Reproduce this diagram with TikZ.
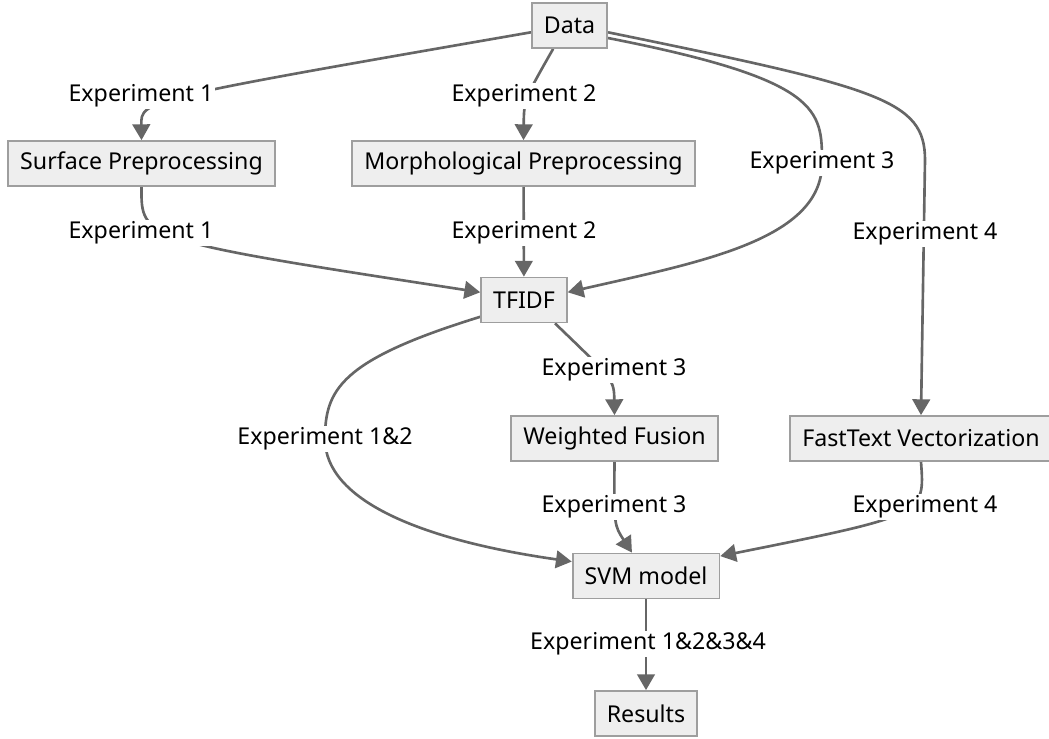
\documentclass[tikz,border=0pt]{standalone}
\usepackage{fontspec}
\setmainfont{Noto Sans}
\usetikzlibrary{arrows.meta,backgrounds}
\definecolor{boxfill}{HTML}{EEEEEE}
\definecolor{boxline}{HTML}{9E9E9E}
\definecolor{edgeline}{HTML}{666666}
\tikzset{
    stage/.style={draw=boxline, fill=boxfill, line width=1pt, minimum height=0.9cm, inner xsep=0.24cm, font=\fontsize{13.2}{15}\selectfont},
    lbl/.style={fill=white, inner sep=1pt, font=\fontsize{13.2}{15}\selectfont},
    link/.style={draw=edgeline, line width=1.5pt},
    flow/.style={link, -{Triangle[width=10pt,length=9pt]}}
}
\begin{document}
\begin{tikzpicture}[x=0.02cm, y=-0.02cm]
    \useasboundingbox (0,0) rectangle (1049,738);
    
    \node[stage] (data) at (569.5,25.5) {Data};
    \node[stage] (surf) at (141.5,163.5) {Surface Preprocessing};
    \node[stage] (morph) at (523.5,163.5) {Morphological Preprocessing};
    \node[stage] (tfidf) at (524,300) {TFIDF};
    \node[stage] (fusion) at (614.5,438.5) {Weighted Fusion};
    \node[stage] (fast) at (921,438.5) {FastText Vectorization};
    \node[stage] (svm) at (646,576) {SVM model};
    \node[stage] (res) at (646,713.5) {Results};
    
    \node[lbl] (ds) at (141,96) {Experiment 1};
    \node[lbl] (dm) at (524,96) {Experiment 2};
    \node[lbl] (dt) at (822,163) {Experiment 3};
    \node[lbl] (df) at (925,234) {Experiment 4};
    \node[lbl] (st) at (141,233) {Experiment 1};
    \node[lbl] (mt) at (524,233) {Experiment 2};
    \node[lbl] (tw) at (614,370) {Experiment 3};
    \node[lbl] (ts) at (325,439) {Experiment 1\&2};
    \node[lbl] (ws) at (614,507) {Experiment 3};
    \node[lbl] (fs) at (925,507) {Experiment 4};
    \node[lbl] (sr) at (648,644) {Experiment 1\&2\&3\&4};
    
    \begin{pgfonlayer}{background}
    \draw[flow] (data.190) .. controls (141,100) .. (surf.north);
    \draw[flow] (data.235) .. controls (524,100) .. (morph.north);
    \draw[flow] (data.-18) .. controls (822,80) and (822,110) .. (dt.center)
        .. controls (822,240) and (700,262) .. (tfidf.10);
    \draw[flow] (data.-10) .. controls (880,88) and (925,100) .. (925,160) -- (fast.north);
    \draw[flow] (surf.south) .. controls (141,240) .. (tfidf.170);
    \draw[flow] (morph) -- (tfidf);
    \draw[flow] (tfidf.-37) .. controls (614,380) .. (fusion.north);
    \draw[flow] (tfidf.201) .. controls (340,360) and (325,390) .. (ts.center)
        .. controls (325,500) and (420,540) .. (svm.169);
    \draw[flow] (fusion.south) .. controls (614,525) .. (svm.121);
    \draw[flow] (fast.south) .. controls (925,515) .. (svm.15);
    \draw[flow] (svm) -- (res);
    \end{pgfonlayer}
    
\end{tikzpicture}
\end{document}
